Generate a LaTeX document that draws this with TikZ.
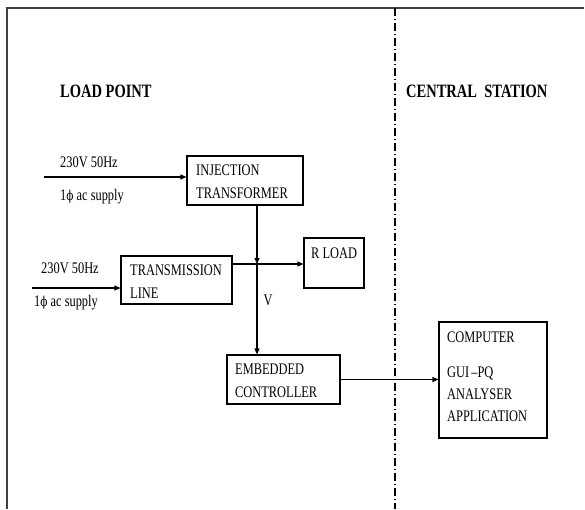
\documentclass[tikz,border=0pt]{standalone}
\usepackage{fontspec}
\usepackage{graphicx}
\setmainfont{Liberation Serif}
\newfontfamily\phifont{DejaVu Serif}
\usetikzlibrary{arrows.meta}
\newcommand\sy[1]{\scalebox{1}[1.3]{#1}}
\newcommand\ph{{\phifont\fontsize{10.5}{12}\selectfont ϕ}}
\tikzset{
  box/.style={draw, line width=1.1pt, rectangle, inner sep=0pt},
  txt/.style={font=\fontsize{12.4}{14}\selectfont, inner sep=0pt},
  head/.style={font=\fontsize{14.5}{16}\selectfont\bfseries, inner sep=0pt},
  arr/.style={line width=1.1pt, -{Triangle[length=6pt,width=5pt]}},
  frame/.style={line width=1.8pt, black!75},
}
\begin{document}
\begin{tikzpicture}[x=1pt,y=-1pt]
\useasboundingbox (0,0) rectangle (585,509);
% frame
\draw[frame] (584,8) -- (7,8) -- (7,509);
\draw[line width=1.3pt, dash pattern=on 8pt off 3pt on 1pt off 3pt] (395,8) -- (395,509);
% headings
\node[head, anchor=west] (lp) at (60,91) {\sy{LOAD POINT}};
\node[head, anchor=west] (cs) at (406,91) {\sy{CENTRAL\ \ STATION}};
% boxes
\node[box, minimum width=116, minimum height=49] (inj) at (245,180.5) {};
\node[txt, anchor=west, align=left] (injt) at (196,182) {\sy{INJECTION}\\[9pt]\sy{TRANSFORMER}};
\node[box, minimum width=111, minimum height=48] (tl) at (176.5,280) {};
\node[txt, anchor=west, align=left] (tlt) at (130,282) {\sy{TRANSMISSION}\\[9pt]\sy{LINE}};
\node[box, minimum width=60, minimum height=50] (rload) at (334,263) {};
\node[txt, anchor=west] (rlt) at (311,253) {\sy{R LOAD}};
\node[box, minimum width=113, minimum height=49] (ec) at (283.5,379.5) {};
\node[txt, anchor=west, align=left] (ect) at (235,381) {\sy{EMBEDDED}\\[9pt]\sy{CONTROLLER}};
\node[box, minimum width=108, minimum height=116] (comp) at (493,380) {};
\node[txt, anchor=west] (c1) at (447,337) {\sy{COMPUTER}};
\node[txt, anchor=west, align=left] (c2) at (447,394) {\sy{GUI\,--PQ}\\[8pt]\sy{ANALYSER}\\[8pt]\sy{APPLICATION}};
% supply labels
\node[txt, anchor=west] (v1) at (60,162) {\sy{230V 50Hz}};
\node[txt, anchor=west] (p1) at (60,197) {\sy{1\ph{} ac supply}};
\node[txt, anchor=west] (v2) at (41,268) {\sy{230V 50Hz}};
\node[txt, anchor=west] (p2) at (34,303) {\sy{1\ph{} ac supply}};
\node[txt] (vl) at (268,300) {\sy{V}};
% connectors
\coordinate (s1) at (44,177);
\coordinate (s2) at (32,288);
\coordinate (j) at (257,264);
\draw[arr] (s1) -- (inj.west |- s1);
\draw[arr] (s2) -- (tl.west |- s2);
\draw[arr] (inj.south -| j) -- (j);
\draw[arr] (tl.east |- j) -- (rload.west |- j);
\draw[arr] (j) -- (ec.north -| j);
\draw[arr] (ec.east) -- (comp.west |- ec.east);
\end{tikzpicture}
\end{document}
